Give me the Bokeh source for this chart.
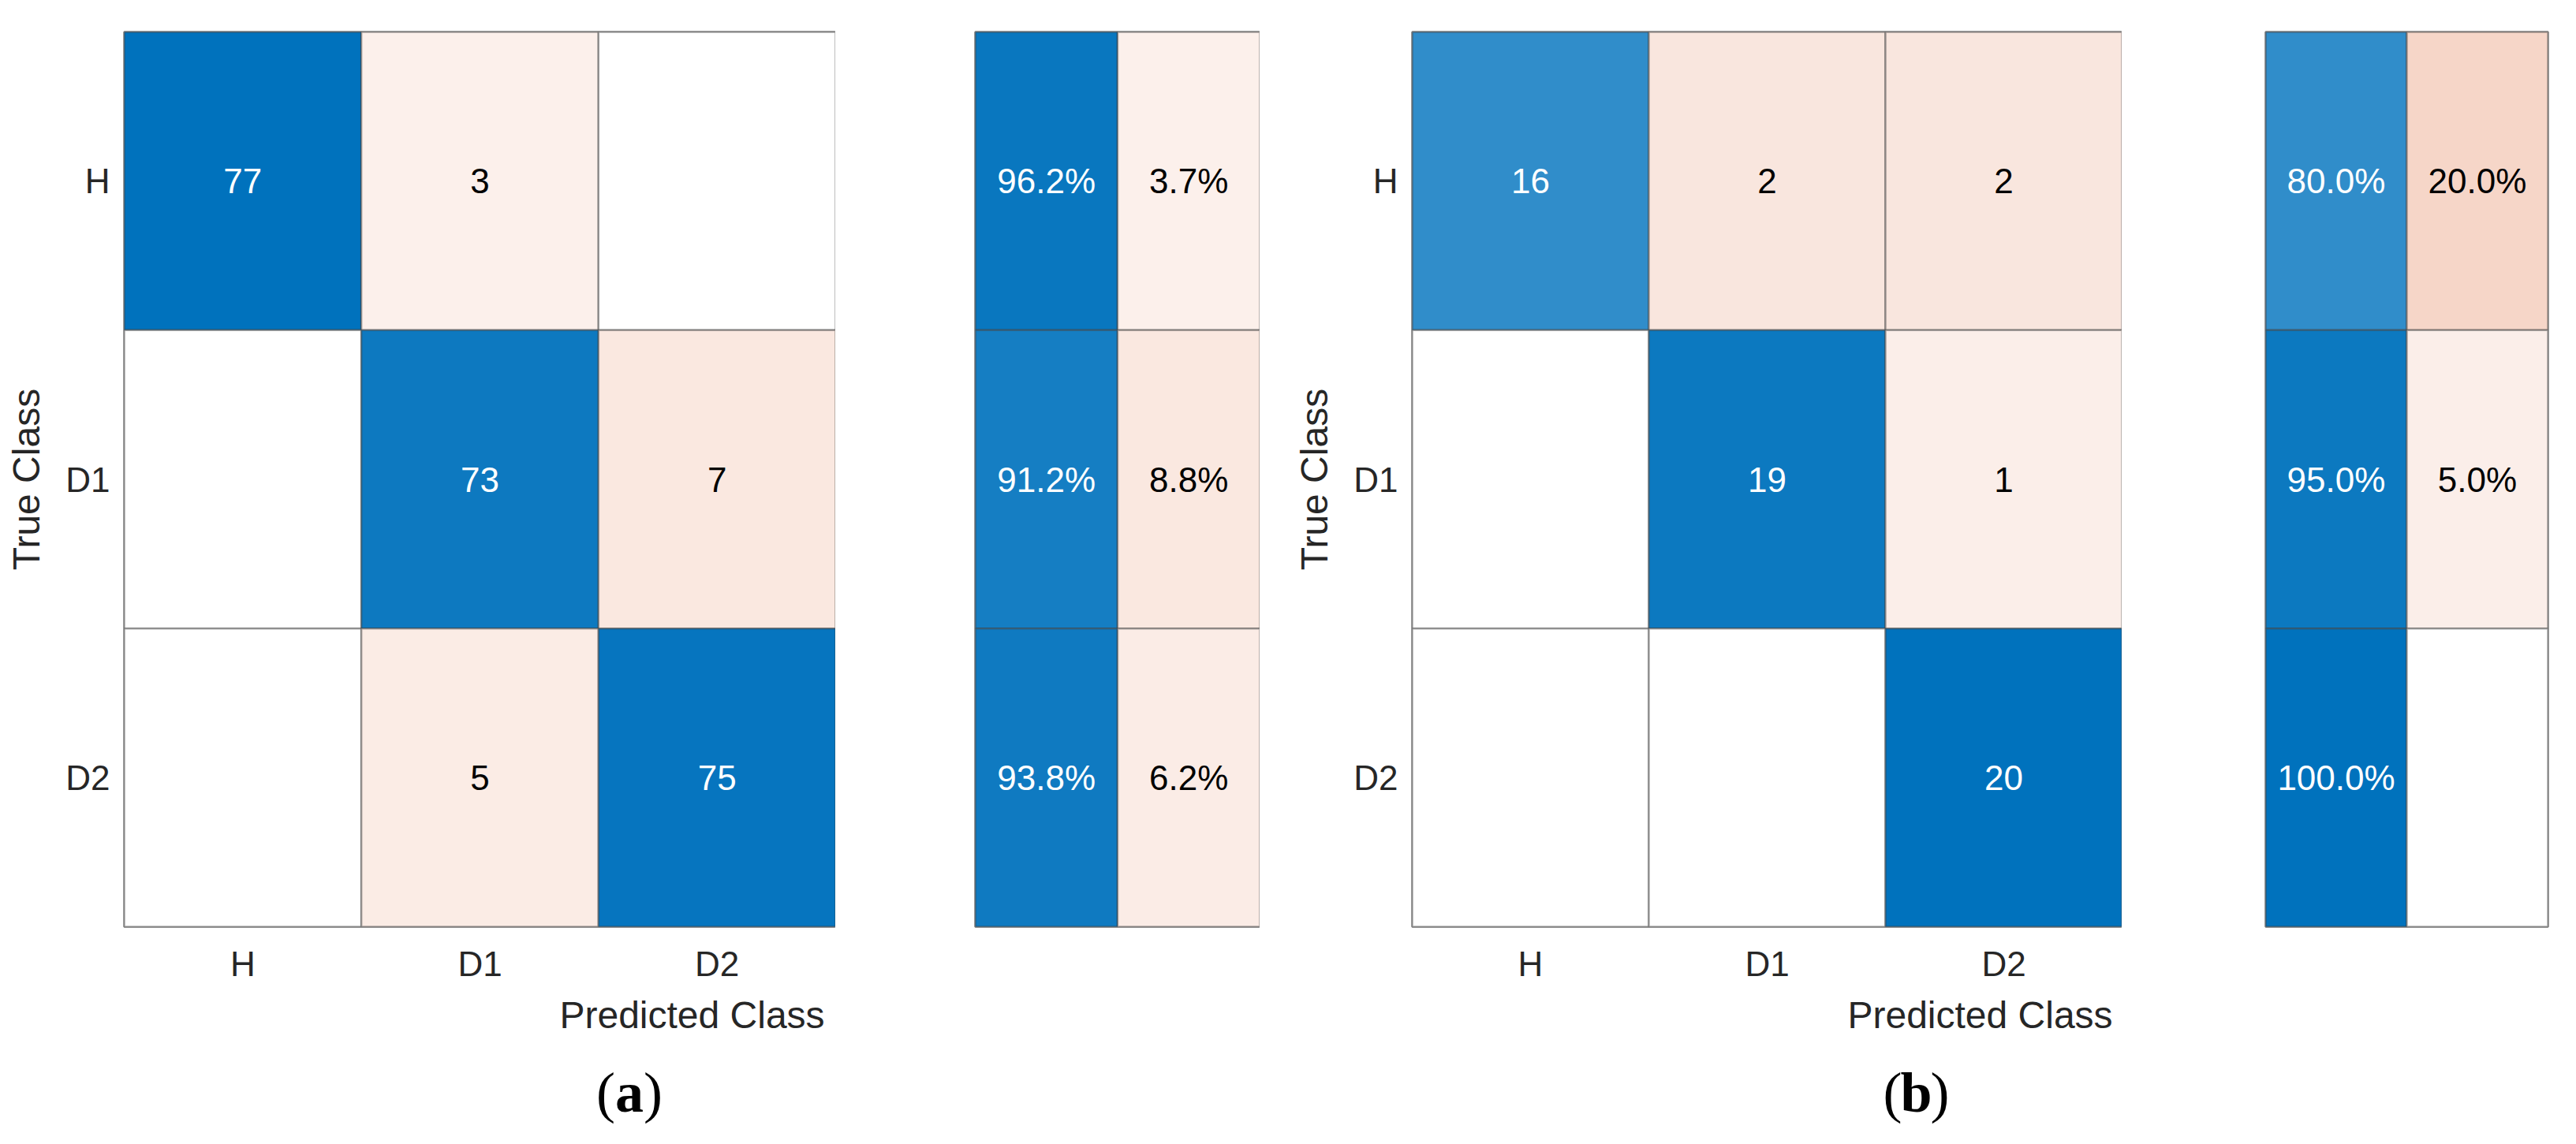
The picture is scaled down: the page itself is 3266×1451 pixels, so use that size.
from bokeh.plotting import figure
from bokeh.models import ColumnDataSource, FactorRange, Range1d
from bokeh.layouts import row, column
from bokeh.embed import file_html
from bokeh.resources import INLINE
from bokeh.core.properties import value

# ---------------- data ----------------
classes = ["H", "D1", "D2"]
counts_a = [[77, 3, 0],
            [0, 73, 7],
            [0, 5, 75]]
counts_b = [[16, 2, 2],
            [0, 19, 1],
            [0, 0, 20]]
summary_cols = ["correct", "incorrect"]
summary_a = [[96.2, 3.7],
             [91.2, 8.8],
             [93.8, 6.2]]
summary_b = [[80.0, 20.0],
             [95.0, 5.0],
             [100.0, 0.0]]
x_title = "Predicted Class"
y_title = "True Class"
panel_tags = ["a", "b"]

# ---------------- style / layout ----------------
BLUE = (0, 114, 189)
ORANGE = (217, 83, 25)
FONT = "Liberation Sans"
SERIF = "Liberation Serif"
AXCOL = "#262626"
FRAME_H = 1135
TOP = 40
BOTTOM = 76
ROW_H = TOP + FRAME_H + BOTTOM
BOT_H = 182

# horizontal layout (borders / frame widths)
A_LEFT, A_W = 157, 902
AS_LEFT, AS_W = 177, 361
B_LEFT, B_W = 193, 900
BS_LEFT, BS_W, BS_RIGHT = 182, 358, 3
PAGE_W = A_LEFT + A_W + AS_LEFT + AS_W + B_LEFT + B_W + BS_LEFT + BS_W + BS_RIGHT


def shade(base, frac):
    if frac <= 0:
        return "#ffffff"
    t = min(1.0, 0.05 + 0.95 * frac)
    return "#%02x%02x%02x" % tuple(int(round(255 + (c - 255) * t)) for c in base)


def style_common(p):
    p.grid.visible = False
    p.background_fill_color = "white"
    p.border_fill_color = "white"
    p.outline_line_color = "#7a7a7a"
    p.outline_line_width = 2.5


def draw_cells(p, xs, ys, fills, texts, tcols):
    src = ColumnDataSource(dict(x=xs, y=ys, fill=fills, txt=texts, tc=tcols))
    p.rect(x="x", y="y", width=1, height=1, source=src, fill_color="fill",
           line_color="#404040", line_alpha=0.45, line_width=2.5)
    p.text(x="x", y="y", text="txt", source=src, text_color="tc",
           text_align="center", text_baseline="middle",
           text_font=value(FONT), text_font_size="44px")


def make_matrix(counts, left_border, frame_w):
    p = figure(x_range=FactorRange(*classes), y_range=FactorRange(*classes[::-1]),
               frame_width=frame_w, frame_height=FRAME_H,
               min_border_left=left_border, min_border_right=0,
               min_border_top=TOP, min_border_bottom=BOTTOM,
               toolbar_location=None, tools="", output_backend="svg")
    style_common(p)
    vmax = max(max(r) for r in counts)
    xs, ys, fills, texts, tcols = [], [], [], [], []
    for i, tr in enumerate(classes):
        for j, pr in enumerate(classes):
            v = counts[i][j]
            frac = v / vmax
            xs.append(pr)
            ys.append(tr)
            fills.append(shade(BLUE if i == j else ORANGE, frac))
            texts.append(str(v) if v > 0 else "")
            tcols.append("#ffffff" if frac > 0.5 else "#000000")
    draw_cells(p, xs, ys, fills, texts, tcols)

    for ax in (p.xaxis[0], p.yaxis[0]):
        ax.axis_line_color = None
        ax.major_tick_line_color = None
        ax.minor_tick_line_color = None
        ax.major_label_text_font = FONT
        ax.major_label_text_font_size = "44px"
        ax.major_label_text_color = AXCOL
    p.xaxis.major_label_standoff = 16
    p.yaxis.major_label_standoff = 12
    p.yaxis.axis_label = y_title
    p.yaxis.axis_label_text_font = FONT
    p.yaxis.axis_label_text_font_size = "48px"
    p.yaxis.axis_label_text_font_style = "normal"
    p.yaxis.axis_label_text_color = AXCOL
    p.yaxis.axis_label_standoff = 20
    return p


def make_summary(summ, left_border, frame_w, right_border):
    p = figure(x_range=FactorRange(*summary_cols), y_range=FactorRange(*classes[::-1]),
               frame_width=frame_w, frame_height=FRAME_H,
               min_border_left=left_border, min_border_right=right_border,
               min_border_top=TOP, min_border_bottom=BOTTOM,
               toolbar_location=None, tools="", output_backend="svg")
    style_common(p)
    p.xaxis.visible = False
    p.yaxis.visible = False
    xs, ys, fills, texts, tcols = [], [], [], [], []
    for i, tr in enumerate(classes):
        for j, col in enumerate(summary_cols):
            v = summ[i][j]
            frac = v / 100.0
            xs.append(col)
            ys.append(tr)
            fills.append(shade(BLUE if j == 0 else ORANGE, frac))
            texts.append(f"{v:.1f}%" if v > 0 else "")
            tcols.append("#ffffff" if frac > 0.5 else "#000000")
    draw_cells(p, xs, ys, fills, texts, tcols)
    return p


f1 = make_matrix(counts_a, A_LEFT, A_W)
f2 = make_summary(summary_a, AS_LEFT, AS_W, 0)
f3 = make_matrix(counts_b, B_LEFT, B_W)
f4 = make_summary(summary_b, BS_LEFT, BS_W, BS_RIGHT)

# ---- bottom strip: shared x titles and panel tags ----
fb = figure(width=PAGE_W, height=BOT_H, x_range=Range1d(0, PAGE_W),
            y_range=Range1d(BOT_H, 0), min_border=0,
            toolbar_location=None, tools="", output_backend="svg")
fb.axis.visible = False
fb.grid.visible = False
fb.outline_line_color = None
fb.background_fill_color = "white"
fb.border_fill_color = "white"

a_frame_left = A_LEFT
a_chart_right = A_LEFT + A_W + AS_LEFT + AS_W
b_frame_left = a_chart_right + B_LEFT
b_chart_right = b_frame_left + B_W + BS_LEFT + BS_W
title_x = [(a_frame_left + a_chart_right) / 2, (b_frame_left + b_chart_right) / 2]
tag_x = [a_frame_left + 0.71 * A_W, b_frame_left + 0.71 * B_W]
title_y = 36
tag_y = 134

fb.text(x=title_x, y=[title_y] * 2, text=[x_title] * 2, text_align="center",
        text_baseline="middle", text_font=value(FONT), text_font_size="48px",
        text_color=AXCOL)
fb.text(x=tag_x, y=[tag_y] * 2, text=panel_tags, text_align="center",
        text_baseline="middle", text_font=value(SERIF), text_font_style="bold",
        text_font_size="72px", text_color="#000000")
fb.text(x=tag_x, y=[tag_y] * 2, text=["(", "("], x_offset=-18, text_align="right",
        text_baseline="middle", text_font=value(SERIF),
        text_font_size="72px", text_color="#000000")
fb.text(x=tag_x, y=[tag_y] * 2, text=[")", ")"], x_offset=18, text_align="left",
        text_baseline="middle", text_font=value(SERIF),
        text_font_size="72px", text_color="#000000")

layout = column(row(f1, f2, f3, f4), fb)
open("out.html", "w").write(file_html(layout, INLINE))
